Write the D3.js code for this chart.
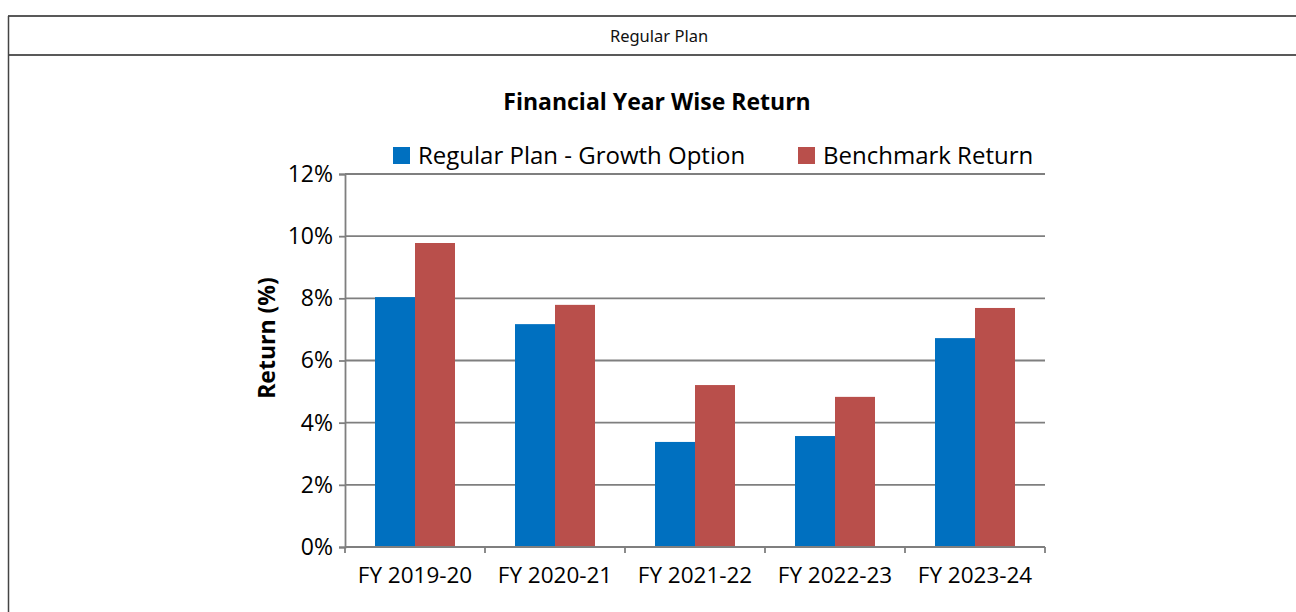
<!DOCTYPE html>
<html>
<head>
<meta charset="utf-8">
<script src="https://cdn.jsdelivr.net/npm/d3@7"></script>
<style>
  body { margin: 0; background: #fff; }
  svg text { font-family: "Open Sans", "Noto Sans", sans-serif; }
</style>
</head>
<body>
<div id="chart"></div>
<script>
const categories = ["FY 2019-20", "FY 2020-21", "FY 2021-22", "FY 2022-23", "FY 2023-24"];
const seriesNames = ["Regular Plan - Growth Option", "Benchmark Return"];
const growthValues = [8.04, 7.17, 3.38, 3.57, 6.72];
const benchmarkValues = [9.78, 7.79, 5.21, 4.83, 7.69];
const yTicks = [0, 2, 4, 6, 8, 10, 12];
const colors = ["#0070c0", "#b94f4b"];

const W = 1296, H = 612;
const svg = d3.select("#chart").append("svg")
  .attr("width", W)
  .attr("height", H);

// table frame
svg.append("line").attr("x1", 8).attr("x2", W).attr("y1", 16).attr("y2", 16)
  .attr("stroke", "#222").attr("stroke-width", 1.5);
svg.append("line").attr("x1", 8).attr("x2", W).attr("y1", 55).attr("y2", 55)
  .attr("stroke", "#222").attr("stroke-width", 1.5);
svg.append("line").attr("x1", 8.5).attr("x2", 8.5).attr("y1", 16).attr("y2", H)
  .attr("stroke", "#444").attr("stroke-width", 1.5);

svg.append("text")
  .attr("x", 659).attr("y", 42)
  .attr("text-anchor", "middle")
  .style("font-size", "16.5px")
  .style("font-family", "'Noto Sans', sans-serif")
  .attr("fill", "#111")
  .text("Regular Plan");

const margin = { left: 345, right: 1045, top: 174, bottom: 547 };

const x0 = d3.scaleBand()
  .domain(categories)
  .range([margin.left, margin.right])
  .paddingInner(60 / 140)
  .paddingOuter(30 / 140);

const x1 = d3.scaleBand()
  .domain([0, 1])
  .range([0, x0.bandwidth()]);

const y = d3.scaleLinear()
  .domain([0, 12])
  .range([margin.bottom, margin.top]);

// gridlines
svg.append("g")
  .selectAll("line")
  .data(yTicks.filter(d => d > 0))
  .join("line")
  .attr("x1", margin.left).attr("x2", margin.right)
  .attr("y1", d => y(d)).attr("y2", d => y(d))
  .attr("stroke", "#7f7f7f").attr("stroke-width", 1.8);

// bars
const rows = categories.map((c, i) => ({ cat: c, vals: [growthValues[i], benchmarkValues[i]] }));
svg.append("g")
  .selectAll("g")
  .data(rows)
  .join("g")
  .attr("transform", d => `translate(${x0(d.cat)},0)`)
  .selectAll("rect")
  .data(d => d.vals.map((v, k) => ({ k: k, v: v })))
  .join("rect")
  .attr("x", d => x1(d.k))
  .attr("width", x1.bandwidth())
  .attr("y", d => y(d.v))
  .attr("height", d => y(0) - y(d.v))
  .attr("fill", d => colors[d.k]);

// y axis
const yAxis = svg.append("g")
  .attr("transform", `translate(${margin.left},0)`)
  .call(d3.axisLeft(y).tickValues(yTicks).tickFormat(d => d + "%").tickSize(6).tickPadding(6));
yAxis.select(".domain").attr("stroke", "#7f7f7f").attr("stroke-width", 1.8);
yAxis.selectAll(".tick line").attr("stroke", "#7f7f7f").attr("stroke-width", 1.8);
yAxis.selectAll(".tick text").style("font-size", "23px").attr("fill", "#000")
  .style("font-family", "'Open Sans', sans-serif");

// x axis
const xBoundary = d3.scaleLinear().domain([0, categories.length]).range([margin.left, margin.right]);
const xAxisG = svg.append("g");
xAxisG.append("line")
  .attr("x1", margin.left).attr("x2", margin.right)
  .attr("y1", y(0)).attr("y2", y(0))
  .attr("stroke", "#7f7f7f").attr("stroke-width", 1.8);
xAxisG.selectAll(".xt")
  .data(d3.range(categories.length + 1))
  .join("line")
  .attr("class", "xt")
  .attr("x1", d => xBoundary(d)).attr("x2", d => xBoundary(d))
  .attr("y1", y(0)).attr("y2", y(0) + 6)
  .attr("stroke", "#7f7f7f").attr("stroke-width", 1.8);
xAxisG.selectAll(".xl")
  .data(categories)
  .join("text")
  .attr("class", "xl")
  .attr("x", d => x0(d) + x0.bandwidth() / 2)
  .attr("y", y(0) + 36)
  .attr("text-anchor", "middle")
  .style("font-size", "22.5px")
  .attr("fill", "#000")
  .text(d => d);

// y title
svg.append("text")
  .attr("transform", `translate(275,338) rotate(-90)`)
  .attr("text-anchor", "middle")
  .style("font-size", "23px")
  .style("font-weight", "bold")
  .text("Return (%)");

// chart title
svg.append("text")
  .attr("x", 657).attr("y", 110)
  .attr("text-anchor", "middle")
  .style("font-size", "23px")
  .style("font-weight", "bold")
  .text("Financial Year Wise Return");

// legend
const legendX = [393, 798];
const legend = svg.append("g")
  .selectAll("g")
  .data(seriesNames)
  .join("g")
  .attr("transform", (d, i) => `translate(${legendX[i]},147)`);
legend.append("rect")
  .attr("width", 17).attr("height", 17)
  .attr("fill", (d, i) => colors[i]);
legend.append("text")
  .attr("x", 25).attr("y", 17)
  .style("font-size", "24px")
  .attr("fill", "#000")
  .text(d => d);
</script>
</body>
</html>
